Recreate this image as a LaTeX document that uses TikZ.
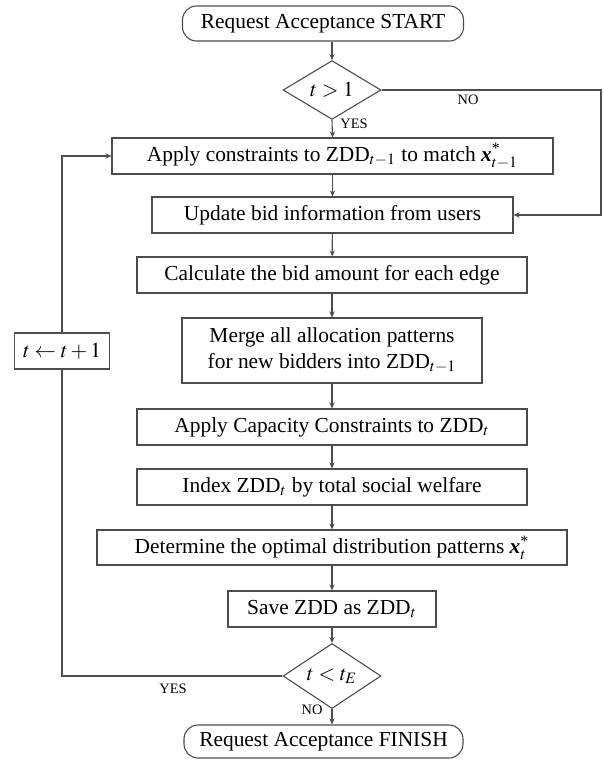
\documentclass[tikz,border=0pt]{standalone}
\usepackage{amsmath}
\usepackage{mathptmx}
\usepackage{fontspec}
\setmainfont{Liberation Serif}
\usetikzlibrary{arrows.meta,shapes.geometric}
\newcommand{\boxfont}{\fontsize{10.7pt}{13pt}\selectfont}
\newcommand{\tagfont}{\fontsize{7.2pt}{8pt}\selectfont}
\newcommand{\bx}{\mbox{\bfseries\itshape x}}

\begin{document}
\begin{tikzpicture}[x=0.5pt,y=-0.5pt,font=\boxfont,
  line/.style={draw=black!70, line width=0.55pt},
  arr/.style={line, -{Stealth[length=3pt,width=2.6pt]}},
  proc/.style={line, rectangle, minimum height=18pt, inner sep=0pt, align=center},
  term/.style={proc, rounded corners=7pt},
  cond/.style={line, diamond, minimum width=49pt, minimum height=24pt, inner sep=0pt},
  tag/.style={font=\tagfont, inner sep=0pt}]
\useasboundingbox (0,0) rectangle (604,760);
% main column
\node[term, minimum width=140.5pt, minimum height=17.5pt] (start) at (323,23.5) {Request Acceptance START};
\node[cond] (first) at (332,90) {$t>1$};
\node[proc, minimum width=220.5pt] (apply) at (332.5,156) {Apply constraints to ZDD$_{t-1}$ to match $\bx^{\text{*}}_{t-1}$};
\node[proc, minimum width=180.5pt] (update) at (332.5,215) {Update bid information from users};
\node[proc, minimum width=195pt] (calc) at (332,275) {Calculate the bid amount for each edge};
\node[proc, minimum width=150pt, minimum height=32.5pt] (merge) at (332,350.5) {Merge all allocation patterns\\for new bidders into ZDD$_{t-1}$};
\node[proc, minimum width=195pt] (cap) at (332,427) {Apply Capacity Constraints to ZDD$_{t}$};
\node[proc, minimum width=195pt] (index) at (332,487) {Index ZDD$_{t}$ by total social welfare};
\node[proc, minimum width=235pt, minimum height=17.5pt] (best) at (332,547.5) {Determine the optimal distribution patterns $\bx^{\text{*}}_{t}$};
\node[proc, minimum width=104pt] (save) at (332,609) {Save ZDD as ZDD$_{t}$};
\node[cond] (last) at (332,676) {$t<t_{E}$};
\node[term, minimum width=139.5pt, minimum height=16.5pt] (finish) at (323.5,741.5) {Request Acceptance FINISH};
% loop counter
\node[proc, minimum width=47.5pt] (inc) at (62,351) {$t\leftarrow t+1$};
\coordinate (skip) at (601,90);

\draw[arr] (first.north |- start.south) -- (first.north);
\draw[arr] (first.south) -- (apply.north);
\draw[arr] (apply) -- (update);
\draw[arr] (update) -- (calc);
\draw[arr] (calc) -- (merge);
\draw[arr] (merge) -- (cap);
\draw[arr] (cap) -- (index);
\draw[arr] (index) -- (best);
\draw[arr] (best) -- (save);
\draw[arr] (save) -- (last);
\draw[arr] (last.south) -- (last.south |- finish.north);
% branches
\draw[arr] (first.east) -- (skip) |- (update.east);
\draw[line] (last.west) -| (inc.south);
\draw[arr] (inc.north) |- (apply.west);

\node[tag] (yes1) at (354,124) {YES};
\node[tag] (no1) at (468,100) {NO};
\node[tag] (yes2) at (173,689) {YES};
\node[tag] (no2) at (312,710) {NO};
\end{tikzpicture}
\end{document}
